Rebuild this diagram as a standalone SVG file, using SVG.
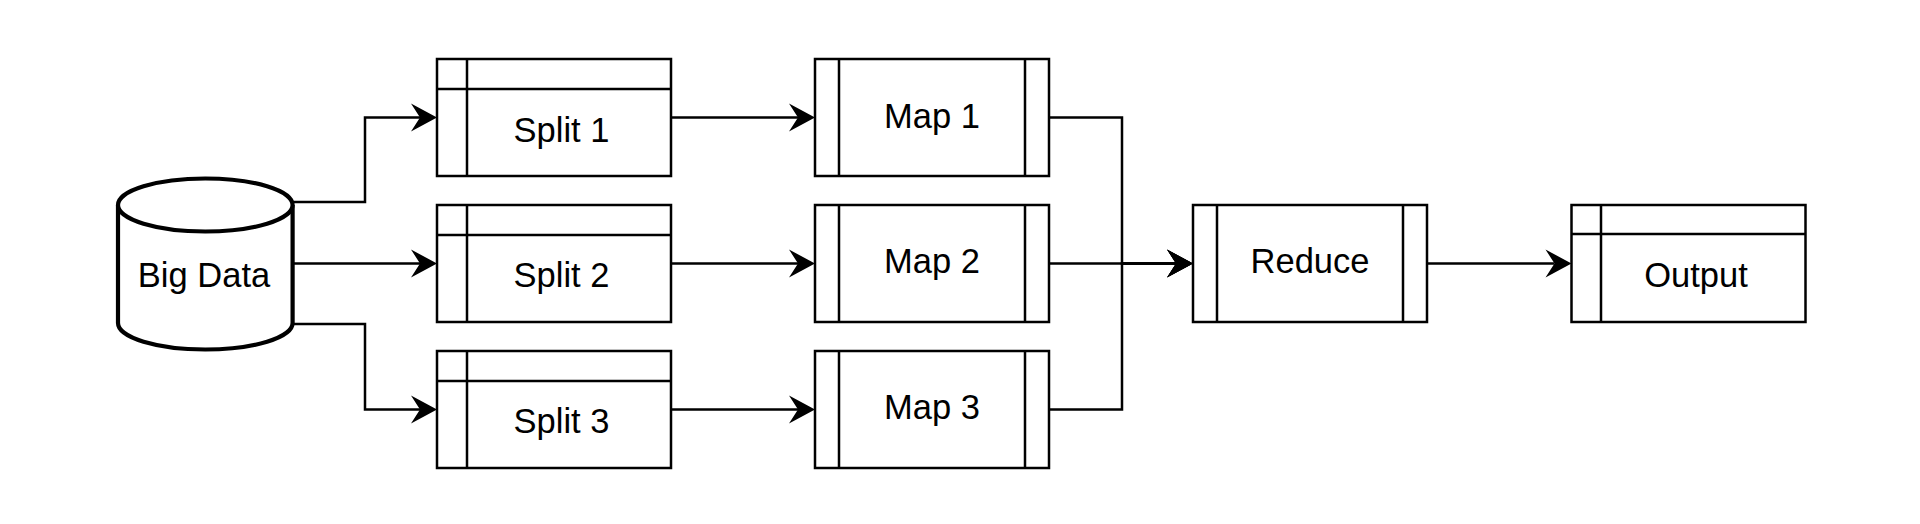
<svg xmlns="http://www.w3.org/2000/svg" width="1920" height="524" viewBox="0 0 1920 524">
<style>
.box{fill:#fff;stroke:#000;stroke-width:2.5}
.ln{fill:none;stroke:#000;stroke-width:2.5}
.cyl{fill:#fff;stroke:#000;stroke-width:4.2}
.edge{fill:none;stroke:#000;stroke-width:2.5}
.lbl{font-family:"Liberation Sans",Arial,Helvetica,sans-serif;font-size:34.5px;fill:#000;text-anchor:middle}
</style>
<defs>
<marker id="arr" markerUnits="userSpaceOnUse" markerWidth="30" markerHeight="32" viewBox="-27 -16 30 32" refX="-17" refY="0" orient="auto">
<path d="M0,0 L-26,-14 L-17,0 L-26,14 Z" fill="#000"/>
</marker>
</defs>
<rect width="1920" height="524" fill="#fff"/>
<g id="connectors">
<path class="edge" d="M293,202 H365 V117.5 H420" marker-end="url(#arr)"/>
<path class="edge" d="M293,263.5 H420" marker-end="url(#arr)"/>
<path class="edge" d="M293,324 H365 V409.5 H420" marker-end="url(#arr)"/>
<path class="edge" d="M671,117.5 H798" marker-end="url(#arr)"/>
<path class="edge" d="M671,263.5 H798" marker-end="url(#arr)"/>
<path class="edge" d="M671,409.5 H798" marker-end="url(#arr)"/>
<path class="edge" d="M1049,117.5 H1122 V263.5 H1176" marker-end="url(#arr)"/>
<path class="edge" d="M1049,263.5 H1176" marker-end="url(#arr)"/>
<path class="edge" d="M1049,409.5 H1122 V263.5 H1176" marker-end="url(#arr)"/>
<path class="edge" d="M1427,263.5 H1554.5" marker-end="url(#arr)"/>
</g>
<g id="bigdata">
<path class="cyl" d="M118,205 A87.3,26.5 0 0 1 292.6,205 V323 A87.3,26.5 0 0 1 118,323 Z"/>
<path class="cyl" d="M118,205 A87.3,26.5 0 0 0 292.6,205"/>
<text class="lbl" x="204" y="287">Big Data</text>
</g>
<g id="split1">
<rect class="box" x="437" y="59" width="234" height="117"/>
<path class="ln" d="M467,59 V176 M437,89 H671"/>
<text class="lbl" x="561.5" y="141.7">Split 1</text>
</g>
<g id="split2">
<rect class="box" x="437" y="205" width="234" height="117"/>
<path class="ln" d="M467,205 V322 M437,235 H671"/>
<text class="lbl" x="561.5" y="287.3">Split 2</text>
</g>
<g id="split3">
<rect class="box" x="437" y="351" width="234" height="117"/>
<path class="ln" d="M467,351 V468 M437,381 H671"/>
<text class="lbl" x="561.5" y="433.3">Split 3</text>
</g>
<g id="map1">
<rect class="box" x="815" y="59" width="234" height="117"/>
<path class="ln" d="M839,59 V176 M1025,59 V176"/>
<text class="lbl" x="932" y="128.3">Map 1</text>
</g>
<g id="map2">
<rect class="box" x="815" y="205" width="234" height="117"/>
<path class="ln" d="M839,205 V322 M1025,205 V322"/>
<text class="lbl" x="932" y="273.3">Map 2</text>
</g>
<g id="map3">
<rect class="box" x="815" y="351" width="234" height="117"/>
<path class="ln" d="M839,351 V468 M1025,351 V468"/>
<text class="lbl" x="932" y="418.6">Map 3</text>
</g>
<g id="reduce">
<rect class="box" x="1193" y="205" width="234" height="117"/>
<path class="ln" d="M1217,205 V322 M1403,205 V322"/>
<text class="lbl" x="1310" y="273.3">Reduce</text>
</g>
<g id="output">
<rect class="box" x="1571.5" y="205" width="234" height="117"/>
<path class="ln" d="M1601,205 V322 M1571.5,234 H1805.5"/>
<text class="lbl" x="1696" y="287.3">Output</text>
</g>
</svg>
